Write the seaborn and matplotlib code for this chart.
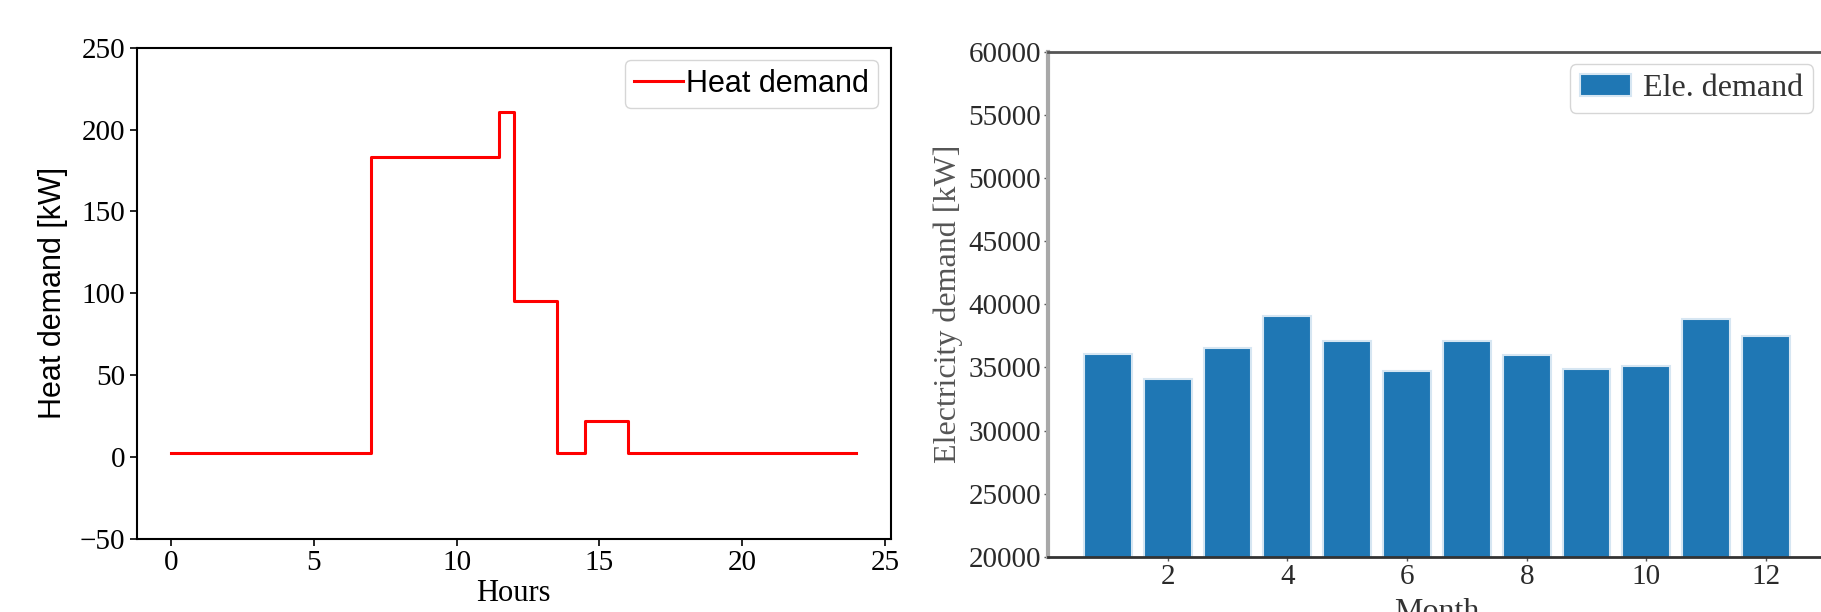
import matplotlib
matplotlib.use("Agg")
import matplotlib.pyplot as plt
import seaborn as sns

# Datos: demanda de calor (escalones por hora)
horas = [0, 7, 11.5, 12, 13.5, 14.5, 16, 24]
calor = [2.4, 183, 211, 95, 2.4, 22, 2.4, 2.4]

# Datos: demanda electrica mensual
meses = [1, 2, 3, 4, 5, 6, 7, 8, 9, 10, 11, 12]
electricidad = [36100, 34100, 36500, 39100, 37100, 34700,
                37100, 36000, 34900, 35100, 38800, 37500]

serif = "Liberation Serif"
sans = "Liberation Sans"

fig = plt.figure(figsize=(18.21, 6.12), dpi=100)

#%% Grafico izquierdo: demanda de calor
ax1 = fig.add_axes([0.0751, 0.12, 0.414, 0.802])
sns.lineplot(x=horas, y=calor, drawstyle="steps-post", color="red",
             linewidth=2.2, label="Heat demand", ax=ax1)
ax1.set_xlim(-1.2, 25.2)
ax1.set_ylim(-50, 250)
ax1.set_xticks([0, 5, 10, 15, 20, 25])
ax1.set_yticks([-50, 0, 50, 100, 150, 200, 250])
ax1.set_xlabel("Hours", fontfamily=serif, fontsize=22, labelpad=2)
ax1.set_ylabel("Heat demand [kW]", fontfamily=sans, fontsize=22, labelpad=8)
for lab in ax1.get_xticklabels() + ax1.get_yticklabels():
    lab.set_fontfamily(serif)
    lab.set_fontsize(21)
for s in ax1.spines.values():
    s.set_linewidth(1.5)
    s.set_color("black")
ax1.tick_params(width=1.2, length=5)
leg1 = ax1.legend(loc="upper right", prop={"family": sans, "size": 22},
                  handlelength=1.6, handletextpad=0.1, borderpad=0.3,
                  borderaxespad=0.4)

#%% Grafico derecho: demanda electrica
ax2 = fig.add_axes([0.5755, 0.0899, 0.4272, 0.8259])
sns.barplot(x=meses, y=electricidad, native_scale=True, color="#1f77b4",
            saturation=1, edgecolor="#d6e6f2", linewidth=1.5,
            label="Ele. demand", ax=ax2)
ax2.set_xlim(0.0, 13.0)
ax2.set_ylim(20000, 60000)
ax2.set_xticks([2, 4, 6, 8, 10, 12])
ax2.set_yticks(range(20000, 60001, 5000))
ax2.set_xlabel("Month", fontfamily=serif, fontsize=23, color="#333333",
               labelpad=6)
ax2.set_ylabel("Electricity demand [kW]", fontfamily=serif, fontsize=23,
               color="#555555", labelpad=4)
for lab in ax2.get_xticklabels() + ax2.get_yticklabels():
    lab.set_fontfamily(serif)
    lab.set_fontsize(21)
    lab.set_color("#2a2a2a")
ax2.tick_params(length=3, width=1, colors="#555555", pad=2)
for lab in ax2.get_xticklabels() + ax2.get_yticklabels():
    lab.set_color("#2a2a2a")
ax2.spines["left"].set_color("#a8a8a8")
ax2.spines["left"].set_linewidth(3)
ax2.spines["top"].set_color("#555555")
ax2.spines["top"].set_linewidth(2)
ax2.spines["bottom"].set_color("#333333")
ax2.spines["bottom"].set_linewidth(2)
ax2.spines["right"].set_color("#555555")
leg2 = ax2.legend(loc="upper right", prop={"family": serif, "size": 23},
                  handlelength=1.6, handletextpad=0.4, borderpad=0.3,
                  borderaxespad=0.4)
for t in leg2.get_texts():
    t.set_color("#333333")

fig.savefig("out.png", dpi=100)
